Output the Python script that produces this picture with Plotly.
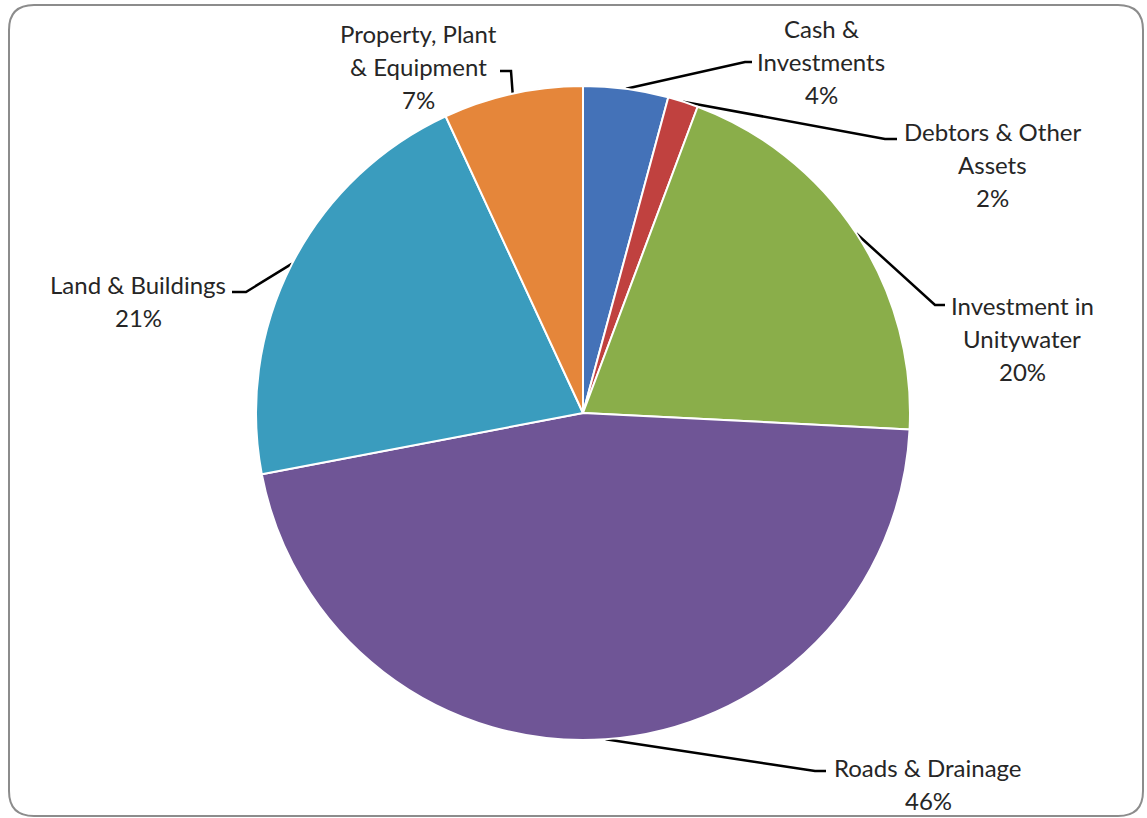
import math
import plotly.graph_objects as go

# Asset composition (share of total, %)
categories = ["Cash &\nInvestments", "Debtors & Other\nAssets", "Investment in\nUnitywater",
              "Roads & Drainage", "Land & Buildings", "Property, Plant\n& Equipment"]
shares = [4.2, 1.5, 20.1, 46.2, 21.1, 6.9]
colors = ["#4472B8", "#C0413F", "#8AAE4A", "#6F5596", "#3A9CBE", "#E5863A"]

W, H = 1147, 818
CX, CY, R = 583, 413, 327          # pie centre / radius in pixels

# label block anchor (centre x, first line y) and leader-line bend points
label_pos = [(821, 28), (992, 131), (1022, 305), (928, 767), (138, 284), (418, 33)]
bends = [[(745, 62), (752, 62)], [(885, 139), (897, 139)], [(935, 305), (945, 305)],
         [(815, 771), (826, 771)], [(246, 292), (232, 292)], [(511, 71), (500, 71)]]
LINE_H = 33

fig = go.Figure()
fig.add_trace(go.Pie(
    labels=[c.replace("\n", " ") for c in categories], values=shares,
    sort=False, direction="clockwise", rotation=0,
    marker=dict(colors=colors, line=dict(color="white", width=2)),
    textinfo="none", hoverinfo="label+percent", showlegend=False,
    domain=dict(x=[(CX - R) / W, (CX + R) / W], y=[1 - (CY + R) / H, 1 - (CY - R) / H]),
))

total = sum(shares)
cum = 0.0
annotations = []
for name, val, pos, bend in zip(categories, shares, label_pos, bends):
    mid = (cum + val / 2) / total * 2 * math.pi
    cum += val
    ax = CX + R * math.sin(mid)
    ay = CY - R * math.cos(mid)
    xs = [ax] + [p[0] for p in bend]
    ys = [ay] + [p[1] for p in bend]
    fig.add_trace(go.Scatter(x=xs, y=ys, mode="lines", line=dict(color="black", width=2.5),
                             hoverinfo="skip", showlegend=False))
    lines = name.split("\n") + [f"{round(val / total * 100):.0f}%"]
    for i, txt in enumerate(lines):
        annotations.append(dict(x=pos[0], y=pos[1] + i * LINE_H, xref="x", yref="y",
                                text=txt, showarrow=False, xanchor="center", yanchor="middle",
                                font=dict(family="Lato", size=24, color="#262626")))

# rounded chart frame
x0, y0, x1, y1, rr = 9, 5, 1143, 816, 25
frame = (f"M {x0+rr},{y0} L {x1-rr},{y0} Q {x1},{y0} {x1},{y0+rr} L {x1},{y1-rr} "
         f"Q {x1},{y1} {x1-rr},{y1} L {x0+rr},{y1} Q {x0},{y1} {x0},{y1-rr} "
         f"L {x0},{y0+rr} Q {x0},{y0} {x0+rr},{y0} Z")

fig.update_layout(
    width=W, height=H, margin=dict(l=0, r=0, t=0, b=0),
    paper_bgcolor="white", plot_bgcolor="rgba(0,0,0,0)",
    xaxis=dict(range=[0, W], visible=False, domain=[0, 1], fixedrange=True),
    yaxis=dict(range=[H, 0], visible=False, domain=[0, 1], fixedrange=True),
    annotations=annotations,
    shapes=[dict(type="path", path=frame, xref="x", yref="y",
                 line=dict(color="#8C8C8C", width=2), layer="above")],
)

fig.write_html("out.html")
